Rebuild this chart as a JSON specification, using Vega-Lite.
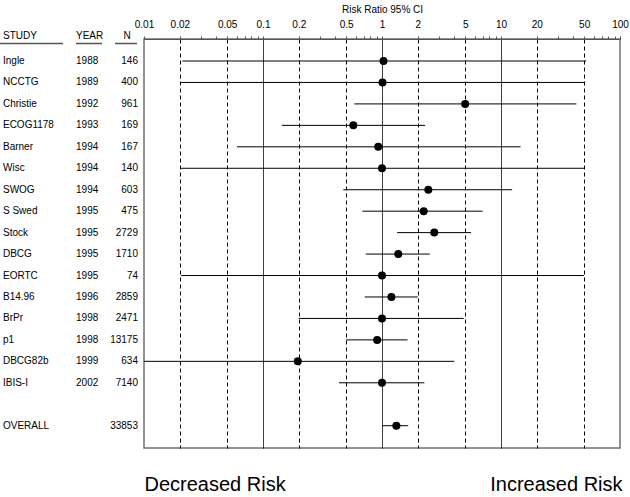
{
  "$schema": "https://vega.github.io/schema/vega-lite/v6.json",
  "width": 476,
  "height": 409,
  "autosize": {"type": "none"},
  "padding": {"left": 144, "top": 39, "right": 10, "bottom": 49},
  "background": "white",
  "config": {
    "font": "Liberation Sans",
    "view": {"stroke": "#707070", "strokeWidth": 1.5},
    "text": {"font": "Liberation Sans"}
  },
  "data": {
    "values": [
      {"row": 0, "study": "Ingle", "year": "1988", "n": "146", "rr": 1.03, "lo": 0.021, "hi": 52},
      {"row": 1, "study": "NCCTG", "year": "1989", "n": "400", "rr": 1.01, "lo": 0.0205, "hi": 51},
      {"row": 2, "study": "Christie", "year": "1992", "n": "961", "rr": 5.0, "lo": 0.585, "hi": 43},
      {"row": 3, "study": "ECOG1178", "year": "1993", "n": "169", "rr": 0.574, "lo": 0.144, "hi": 2.3},
      {"row": 4, "study": "Barner", "year": "1994", "n": "167", "rr": 0.93, "lo": 0.0605, "hi": 14.6},
      {"row": 5, "study": "Wisc", "year": "1994", "n": "140", "rr": 1.0, "lo": 0.0205, "hi": 50},
      {"row": 6, "study": "SWOG", "year": "1994", "n": "603", "rr": 2.45, "lo": 0.473, "hi": 12.4},
      {"row": 7, "study": "S Swed", "year": "1995", "n": "475", "rr": 2.24, "lo": 0.684, "hi": 7.0},
      {"row": 8, "study": "Stock", "year": "1995", "n": "2729", "rr": 2.75, "lo": 1.34, "hi": 5.6},
      {"row": 9, "study": "DBCG", "year": "1995", "n": "1710", "rr": 1.37, "lo": 0.73, "hi": 2.52},
      {"row": 10, "study": "EORTC", "year": "1995", "n": "74", "rr": 1.0, "lo": 0.0205, "hi": 49.7},
      {"row": 11, "study": "B14.96", "year": "1996", "n": "2859", "rr": 1.2, "lo": 0.716, "hi": 2.0},
      {"row": 12, "study": "BrPr", "year": "1998", "n": "2471", "rr": 1.0, "lo": 0.2, "hi": 4.86},
      {"row": 13, "study": "p1", "year": "1998", "n": "13175", "rr": 0.91, "lo": 0.5, "hi": 1.64},
      {"row": 14, "study": "DBCG82b", "year": "1999", "n": "634", "rr": 0.196, "lo": 0.01, "hi": 4.05},
      {"row": 15, "study": "IBIS-I", "year": "2002", "n": "7140", "rr": 1.0, "lo": 0.435, "hi": 2.27},
      {"row": 17, "study": "OVERALL", "year": "", "n": "33853", "rr": 1.32, "lo": 1.01, "hi": 1.66}
    ]
  },
  "layer": [
    {
      "mark": {"type": "rule", "color": "black", "strokeWidth": 1},
      "encoding": {
        "x": {
          "field": "lo",
          "type": "quantitative",
          "scale": {"type": "log", "domain": [0.01, 100], "nice": false},
          "axis": {
            "orient": "top",
            "values": [0.01, 0.02, 0.03, 0.04, 0.05, 0.06, 0.07, 0.08, 0.09, 0.1, 0.2, 0.3, 0.4, 0.5, 0.6, 0.7, 0.8, 0.9, 1, 2, 3, 4, 5, 6, 7, 8, 9, 10, 20, 30, 40, 50, 60, 70, 80, 90, 100],
            "format": "~g",
            "labelExpr": "indexof([0.01,0.02,0.05,0.1,0.2,0.5,1,2,5,10,20,50,100], datum.value) >= 0 ? datum.label : ''",
            "title": "Risk Ratio  95%   CI",
            "titleFontSize": 10,
            "titleFontWeight": "normal",
            "titleColor": "black",
            "titlePadding": 5,
            "labelFontSize": 10,
            "labelColor": "black",
            "labelPadding": 7,
            "labelFlush": false,
            "labelOverlap": false,
            "tickSize": 3,
            "tickColor": "#555555",
            "domainColor": "#555555",
            "domainWidth": 1.2,
            "grid": true,
            "gridColor": "black",
            "gridWidth": 1,
            "gridDash": {"condition": {"test": "indexof([0.1,1,10], datum.value) >= 0", "value": [1, 0]}, "value": [4, 3]},
            "gridOpacity": {"condition": {"test": "indexof([0.02,0.05,0.1,0.2,0.5,1,2,5,10,20,50], datum.value) >= 0", "value": 1}, "value": 0}
          }
        },
        "x2": {"field": "hi"},
        "y": {
          "field": "row",
          "type": "quantitative",
          "scale": {"domain": [-1.026, 18.04], "reverse": true, "nice": false, "zero": false},
          "axis": null
        }
      }
    },
    {
      "mark": {"type": "circle", "size": 64, "color": "black", "opacity": 1},
      "encoding": {
        "x": {"field": "rr", "type": "quantitative"},
        "y": {"field": "row", "type": "quantitative"}
      }
    },
    {
      "mark": {"type": "text", "align": "left", "baseline": "middle", "fontSize": 10, "color": "black"},
      "encoding": {
        "x": {"datum": 0.000653},
        "y": {"field": "row", "type": "quantitative"},
        "text": {"field": "study"}
      }
    },
    {
      "mark": {"type": "text", "align": "left", "baseline": "middle", "fontSize": 10, "color": "black"},
      "encoding": {
        "x": {"datum": 0.002683},
        "y": {"field": "row", "type": "quantitative"},
        "text": {"field": "year"}
      }
    },
    {
      "mark": {"type": "text", "align": "right", "baseline": "middle", "fontSize": 10, "color": "black"},
      "encoding": {
        "x": {"datum": 0.008904},
        "y": {"field": "row", "type": "quantitative"},
        "text": {"field": "n"}
      }
    },
    {
      "data": {"values": [{}]},
      "layer": [
        {
          "mark": {"type": "text", "align": "left", "baseline": "middle", "fontSize": 10, "color": "black", "text": "STUDY"},
          "encoding": {"x": {"datum": 0.000653}, "y": {"datum": -1.166, "type": "quantitative"}}
        },
        {
          "mark": {"type": "text", "align": "left", "baseline": "middle", "fontSize": 10, "color": "black", "text": "YEAR"},
          "encoding": {"x": {"datum": 0.002683}, "y": {"datum": -1.166, "type": "quantitative"}}
        },
        {
          "mark": {"type": "text", "align": "center", "baseline": "middle", "fontSize": 10, "color": "black", "text": "N"},
          "encoding": {"x": {"datum": 0.0072}, "y": {"datum": -1.166, "type": "quantitative"}}
        },
        {
          "mark": {"type": "rule", "color": "#555555", "strokeWidth": 1.5},
          "encoding": {"x": {"datum": 0.000617}, "x2": {"datum": 0.002086}, "y": {"datum": -0.816, "type": "quantitative"}}
        },
        {
          "mark": {"type": "rule", "color": "#555555", "strokeWidth": 1.5},
          "encoding": {"x": {"datum": 0.002683}, "x2": {"datum": 0.004437}, "y": {"datum": -0.816, "type": "quantitative"}}
        },
        {
          "mark": {"type": "rule", "color": "#555555", "strokeWidth": 1.5},
          "encoding": {"x": {"datum": 0.005706}, "x2": {"datum": 0.008735}, "y": {"datum": -0.816, "type": "quantitative"}}
        },
        {
          "mark": {"type": "text", "align": "left", "baseline": "middle", "fontSize": 20, "color": "black", "text": "Decreased Risk"},
          "encoding": {"x": {"datum": 0.0101}, "y": {"datum": 19.78, "type": "quantitative"}}
        },
        {
          "mark": {"type": "text", "align": "right", "baseline": "middle", "fontSize": 20, "color": "black", "text": "Increased Risk"},
          "encoding": {"x": {"datum": 105}, "y": {"datum": 19.78, "type": "quantitative"}}
        }
      ]
    }
  ]
}
